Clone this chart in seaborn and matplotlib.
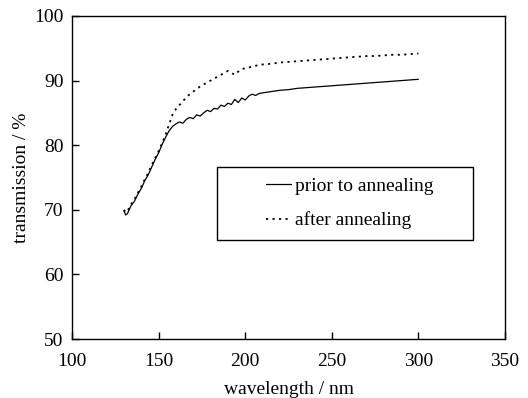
import pandas as pd
import matplotlib
matplotlib.use("Agg")
import matplotlib.pyplot as plt
from matplotlib.patches import Rectangle
import seaborn as sns

# wavelength grid (nm)
wavelength = [130, 131, 132, 134, 136, 138, 140, 142, 144, 146, 148, 150, 152, 154,
              156, 158, 160, 162, 164, 166, 168, 170, 172, 174, 176, 178, 180, 182,
              184, 186, 188, 190, 192, 194, 196, 198, 200, 202, 204, 206, 208, 210,
              215, 220, 225, 230, 235, 240, 245, 250, 255, 260, 265, 270, 275, 280,
              285, 290, 295, 300]

# transmission (%) before annealing
prior = [69.8, 69.2, 69.4, 70.6, 71.3, 72.4, 73.3, 74.5, 75.4, 76.6, 77.8, 78.8, 80.1, 81.2,
         82.2, 82.9, 83.3, 83.6, 83.4, 84.0, 84.3, 84.1, 84.7, 84.5, 85.0, 85.4, 85.2, 85.7,
         85.6, 86.2, 86.0, 86.5, 86.3, 87.1, 86.6, 87.3, 87.0, 87.6, 87.9, 87.7, 88.0, 88.1,
         88.3, 88.5, 88.6, 88.8, 88.9, 89.0, 89.1, 89.2, 89.3, 89.4, 89.5, 89.6, 89.7, 89.8,
         89.9, 90.0, 90.1, 90.2]

# transmission (%) after annealing
after = [70.0, 69.6, 69.8, 70.8, 71.6, 72.6, 73.6, 74.7, 75.7, 76.9, 78.0, 79.1, 80.3, 81.6,
         83.2, 84.7, 85.6, 86.2, 86.8, 87.4, 87.9, 88.3, 88.7, 89.1, 89.4, 89.7, 90.0, 90.3,
         90.6, 90.9, 91.2, 91.5, 91.2, 90.9, 91.4, 91.8, 91.9, 92.0, 92.2, 92.3, 92.4, 92.5,
         92.6, 92.8, 92.9, 93.0, 93.1, 93.2, 93.3, 93.4, 93.5, 93.6, 93.7, 93.8, 93.8, 93.9,
         94.0, 94.0, 94.1, 94.2]

labels = ["prior to annealing", "after annealing"]

df = pd.DataFrame({"wavelength": wavelength, "prior": prior, "after": after})

sns.set_style("ticks")
plt.rcParams["font.family"] = ["Liberation Serif", "DejaVu Serif"]
plt.rcParams["font.size"] = 14
plt.rcParams["text.color"] = "black"
plt.rcParams["axes.labelcolor"] = "black"

fig, ax = plt.subplots(figsize=(5.28, 3.98), dpi=100)
fig.subplots_adjust(left=72/528, right=505/528, top=1-16/398, bottom=1-339/398)

sns.lineplot(data=df, x="wavelength", y="prior", ax=ax, color="black",
             linewidth=0.9, label=labels[0])
sns.lineplot(data=df, x="wavelength", y="after", ax=ax, color="black",
             linewidth=1.3, linestyle=(0, (1.2, 2.4)), label=labels[1])

ax.set_xlim(100, 350)
ax.set_ylim(50, 100)
ax.set_xticks([100, 150, 200, 250, 300, 350])
ax.set_yticks([50, 60, 70, 80, 90, 100])
ax.tick_params(direction="in", length=5, width=1, colors="black", labelsize=14)
ax.tick_params(axis="x", pad=10)
ax.tick_params(axis="y", pad=6)
for s in ax.spines.values():
    s.set_color("black")
    s.set_linewidth(1)

ax.set_xlabel("wavelength / nm", fontsize=14, labelpad=8, color="black")
ax.set_ylabel("transmission / %", fontsize=14, labelpad=3, color="black")

# legend: boxed, frameless legend inside a drawn rectangle
ax.add_patch(Rectangle((0.335, 0.307), 0.591, 0.226, transform=ax.transAxes,
                       fill=False, edgecolor="black", linewidth=1, zorder=3))
leg = ax.legend(loc="center", bbox_to_anchor=(0.335 + 0.591/2 + 0.01, 0.307 + 0.113),
                frameon=False, fontsize=14, handlelength=1.3, handletextpad=0.2,
                labelspacing=0.85)
for t in leg.get_texts():
    t.set_color("black")

fig.savefig("out.png", dpi=100)
